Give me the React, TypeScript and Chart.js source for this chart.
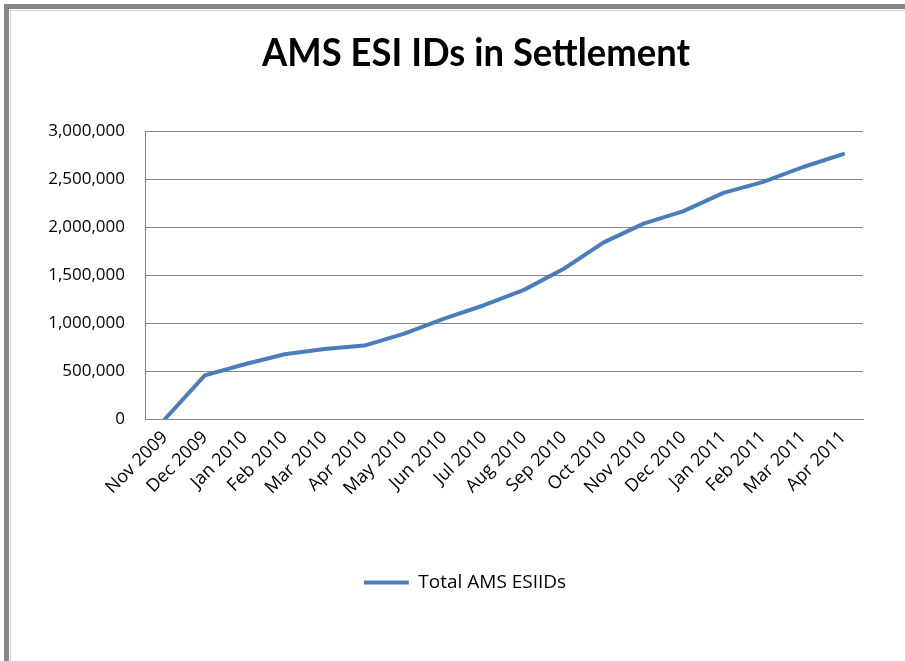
import React, { useEffect, useRef } from "react";
import { Chart, registerables } from "chart.js";

Chart.register(...registerables);

const months: string[] = [
  "Nov 2009", "Dec 2009", "Jan 2010", "Feb 2010", "Mar 2010", "Apr 2010",
  "May 2010", "Jun 2010", "Jul 2010", "Aug 2010", "Sep 2010", "Oct 2010",
  "Nov 2010", "Dec 2010", "Jan 2011", "Feb 2011", "Mar 2011", "Apr 2011",
];

const totalAmsEsiids: number[] = [
  0, 455000, 570000, 675000, 730000, 765000,
  890000, 1045000, 1185000, 1345000, 1565000, 1840000,
  2035000, 2165000, 2355000, 2470000, 2625000, 2760000,
];

const yMin = 0;
const yMax = 3000000;
const yStep = 500000;

const titleText = "AMS ESI IDs in Settlement";
const seriesLabel = "Total AMS ESIIDs";

// Draws the chart title (condensed, like the original Calibri title)
const titlePlugin = {
  id: "condensedTitle",
  afterDraw(chart: any) {
    const ctx = chart.ctx as CanvasRenderingContext2D;
    ctx.save();
    ctx.font = "bold 39px Lato, 'Open Sans', sans-serif";
    const w = ctx.measureText(titleText).width;
    const sx = 428 / w;
    ctx.translate(476, 66);
    ctx.scale(sx, 1);
    ctx.textAlign = "center";
    ctx.textBaseline = "alphabetic";
    ctx.fillStyle = "#000";
    ctx.fillText(titleText, 0, 0);
    ctx.restore();
  },
};

// Lets the y tick labels extend left of the y scale box, and nudges the legend
const layoutTweak = {
  id: "layoutTweak",
  afterLayout(chart: any) {
    const y = chart.scales.y;
    if (y) {
      y.left = 0;
      y.width = y.right;
    }
    const lg = chart.legend;
    if (lg) {
      lg.left -= 11;
      lg.right -= 11;
    }
  },
};

export default function App() {
  const canvasRef = useRef<HTMLCanvasElement | null>(null);

  useEffect(() => {
    if (!canvasRef.current) return;
    const chart = new Chart(canvasRef.current, {
      type: "line",
      data: {
        labels: months,
        datasets: [
          {
            label: seriesLabel,
            data: totalAmsEsiids,
            borderColor: "#4a7ebb",
            backgroundColor: "#4a7ebb",
            borderWidth: 4,
            pointRadius: 0,
            tension: 0,
            fill: false,
            borderCapStyle: "round",
            borderJoinStyle: "round",
          },
        ],
      },
      options: {
        animation: false,
        responsive: false,
        maintainAspectRatio: false,
        layout: { padding: { left: 89, right: 42, top: 131, bottom: 59 } },
        plugins: {
          title: { display: false },
          legend: {
            display: true,
            position: "bottom",
            labels: {
              usePointStyle: true,
              pointStyle: "line",
              pointStyleWidth: 45,
              boxHeight: 4,
              color: "#000",
              padding: 10,
              font: { family: "'Open Sans'", size: 19 },
            },
          },
          tooltip: { enabled: false },
        },
        scales: {
          x: {
            type: "category",
            offset: true,
            grid: { display: false, drawTicks: false },
            border: { display: true, color: "#868686", width: 1 },
            ticks: {
              autoSkip: false,
              maxRotation: 45,
              minRotation: 45,
              color: "#000",
              padding: 8,
              font: { family: "'Open Sans'", size: 18 },
            },
            afterFit: (scale: any) => {
              scale.height = 144;
            },
          },
          y: {
            min: yMin,
            max: yMax,
            grid: { color: "#868686", lineWidth: 1, drawTicks: false },
            border: { display: true, color: "#868686", width: 1 },
            ticks: {
              stepSize: yStep,
              color: "#000",
              padding: 20,
              font: { family: "'Open Sans'", size: 17 },
              callback: (v: any) => Number(v).toLocaleString("en-US"),
            },
            afterFit: (scale: any) => {
              scale.width = 56;
            },
          },
        },
      },
      plugins: [titlePlugin, layoutTweak],
    });
    return () => chart.destroy();
  }, []);

  return (
    <div style={{ position: "absolute", left: 0, top: 0, width: 905, height: 661, background: "#fff", overflow: "hidden" }}>
      <canvas ref={canvasRef} width={905} height={661} style={{ display: "block", width: 905, height: 661 }} />
      <div style={{ position: "absolute", left: 4, top: 4, right: 0, bottom: 0, borderTop: "5px solid #878787", borderLeft: "5px solid #878787", pointerEvents: "none" }} />
      <div style={{ position: "absolute", left: 10, top: 10, right: 0, bottom: 0, borderTop: "1px solid #d0d0d0", borderLeft: "1px solid #d0d0d0", pointerEvents: "none" }} />
    </div>
  );
}
